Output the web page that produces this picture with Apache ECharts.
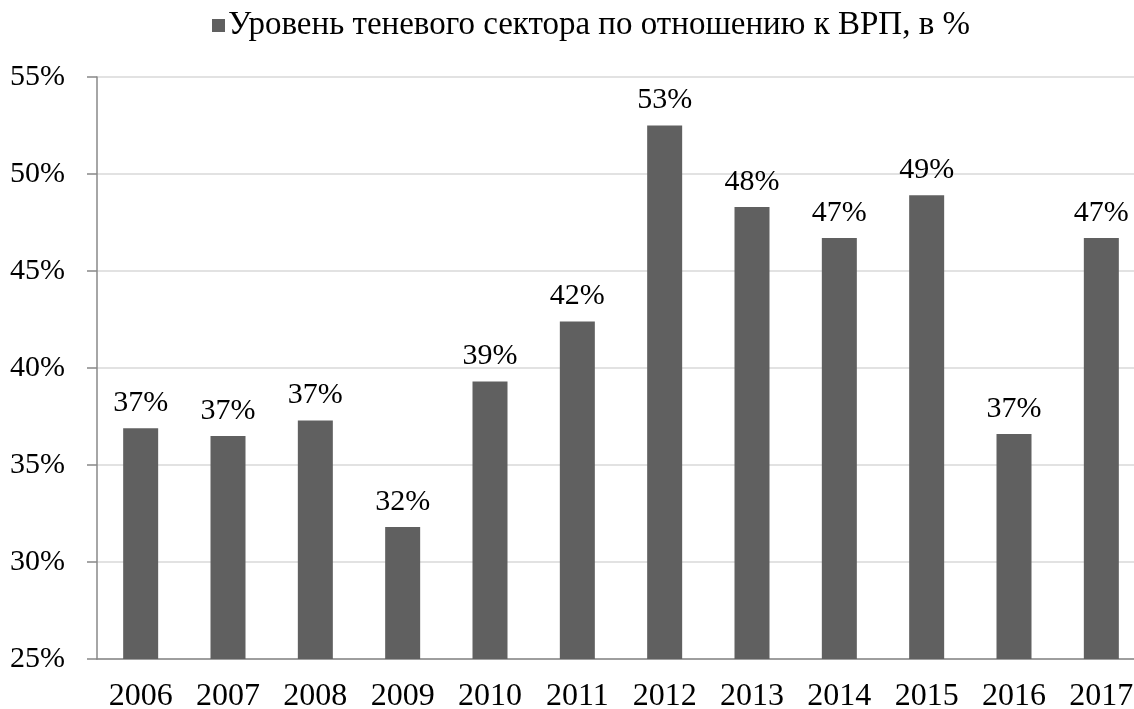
<!DOCTYPE html>
<html>
<head>
<meta charset="utf-8">
<script src="https://cdn.jsdelivr.net/npm/echarts@6/dist/echarts.min.js"></script>
<style>
  html, body { margin: 0; padding: 0; background: #fff; }
  #grafica { width: 1134px; height: 709px; }
</style>
</head>
<body>
<div id="grafica"></div>
<script>
// datos del grafico
var anios = ['2006', '2007', '2008', '2009', '2010', '2011', '2012', '2013', '2014', '2015', '2016', '2017'];
var nivel_sombra = [36.9, 36.5, 37.3, 31.8, 39.3, 42.4, 52.5, 48.3, 46.7, 48.9, 36.6, 46.7];
var nombre_serie = 'Уровень теневого сектора по отношению к ВРП, в %';

var fuente = '"Liberation Serif", "Times New Roman", serif';

var chart = echarts.init(document.getElementById('grafica'));

chart.setOption({
    animation: false,
    textStyle: { fontFamily: fuente },
    legend: {
        left: 207, top: 4,
        itemWidth: 13, itemHeight: 13, itemGap: 6,
        icon: 'rect',
        textStyle: { fontFamily: fuente, fontSize: 33, color: '#000', padding: [0, 0, 0, -2] },
        data: [nombre_serie]
    },
    // sin ajuste automatico, la rejilla va fija
    grid: { left: 97, top: 77, width: 1048, height: 582, outerBoundsMode: 'none' },
    xAxis: {
        type: 'category',
        data: anios,
        axisLine: { lineStyle: { color: '#888', width: 1.5 } },
        axisTick: { length: 10, lineStyle: { color: '#888', width: 1.5 } },
        axisLabel: { fontFamily: fuente, fontSize: 32, color: '#000', margin: 22 }
    },
    yAxis: {
        type: 'value',
        min: 25, max: 55, interval: 5,
        axisLine: { show: true, lineStyle: { color: '#888', width: 1.5 } },
        axisTick: { show: true, length: 10, lineStyle: { color: '#888', width: 1.5 } },
        splitLine: { lineStyle: { color: '#d9d9d9', width: 1.5 } },
        axisLabel: {
            fontFamily: fuente, fontSize: 30, color: '#000', margin: 32,
            formatter: function (v) { return v + '%'; }
        }
    },
    series: [{
        name: nombre_serie,
        type: 'bar',
        data: nivel_sombra,
        barWidth: 35,
        itemStyle: { color: '#606060' },
        label: {
            show: true, position: 'top', distance: 10,
            fontFamily: fuente, fontSize: 30, color: '#000',
            formatter: function (p) { return Math.round(p.value) + '%'; }
        }
    }]
});
</script>
</body>
</html>
